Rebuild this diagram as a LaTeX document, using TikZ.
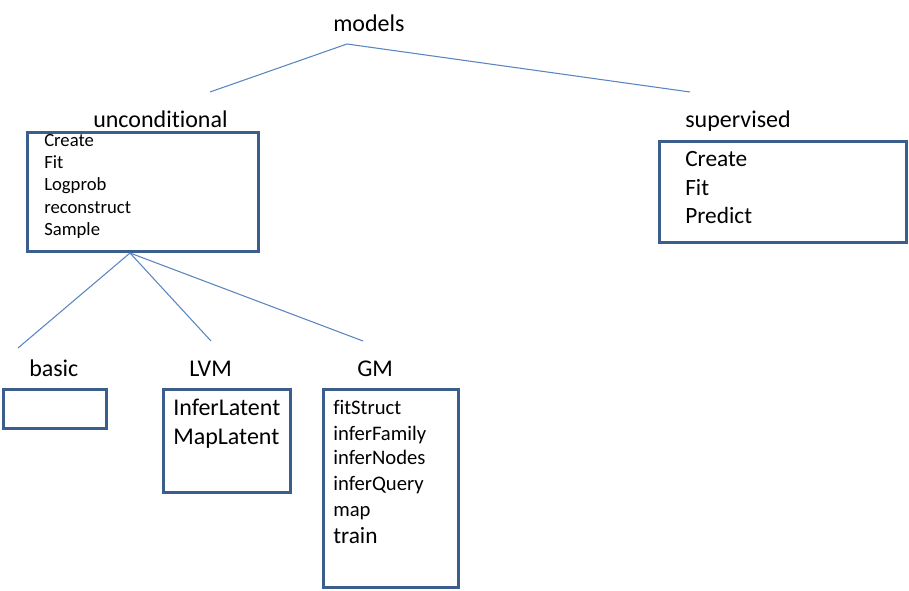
\documentclass[tikz,border=0pt]{standalone}
\usepackage{fontspec}
\setmainfont[Ligatures=NoCommon]{Carlito}
\definecolor{boxblue}{HTML}{3B5E8C}
\definecolor{lineblue}{HTML}{5A86C0}
\tikzset{
 box/.style={draw=boxblue,line width=2.25pt,inner sep=0pt,outer sep=0pt,anchor=north west},
 lbl/.style={anchor=base west,inner sep=0pt,font=\fontsize{18}{20}\selectfont},
 itm/.style={anchor=base west,inner sep=0pt,font=\fontsize{14}{16}\selectfont},
 ritm/.style={anchor=base west,inner sep=0pt,font=\fontsize{17.5}{20}\selectfont},
 gitm/.style={anchor=base west,inner sep=0pt,font=\fontsize{15.5}{18}\selectfont},
 link/.style={draw=lineblue,line width=0.8pt}
}
\begin{document}
\begin{tikzpicture}[x=0.75pt,y=-0.75pt]
 \useasboundingbox (0,0) rectangle (909,591);
 % top level
 \node[lbl] (models) at (333,32) {models};
 \node[lbl] (uncond) at (93,128) {unconditional};
 \node[lbl] (superv) at (685,128) {supervised};
 \coordinate (mtop) at (347,44);
 \coordinate (mleft) at (210,92);
 \coordinate (mright) at (690,92);
 \draw[link] (mleft)--(mtop)--(mright);
 % unconditional box
 \node[box,minimum width=173.25pt,minimum height=89.25pt] (ubox) at (27,133) {};
 \node[itm] (ucreate) at (44,147) {Create};
 \node[itm] (ufit) at (44,169) {Fit};
 \node[itm] (ulogprob) at (44,191) {Logprob};
 \node[itm] (urecon) at (44,214) {reconstruct};
 \node[itm] (usample) at (44,236) {Sample};
 % supervised box
 \node[box,minimum width=185.25pt,minimum height=75.75pt] (sbox) at (659,142) {};
 \node[ritm] (screate) at (685,167) {Create};
 \node[ritm] (sfit) at (685,196) {Fit};
 \node[ritm] (spredict) at (685,224) {Predict};
 % second level
 \coordinate (utop) at (130,253);
 \coordinate (bend) at (18,348);
 \coordinate (lend) at (211,341);
 \coordinate (gend) at (363,341);
 \draw[link] (utop)--(bend);
 \draw[link] (utop)--(lend);
 \draw[link] (utop)--(gend);
 \node[lbl] (basic) at (29,376) {basic};
 \node[lbl] (lvm) at (189,376) {LVM};
 \node[lbl] (gm) at (357,376) {GM};
 \node[box,minimum width=77.25pt,minimum height=29.25pt] (bbox) at (3,389) {};
 \node[box,minimum width=95.25pt,minimum height=77.25pt] (lbox) at (163,389) {};
 \node[lbl] (linfer) at (173,415) {InferLatent};
 \node[lbl] (lmap) at (173,444) {MapLatent};
 \node[box,minimum width=101.25pt,minimum height=148.5pt] (gbox) at (323,389) {};
 \node[gitm] (gfit) at (333,414) {fitStruct};
 \node[gitm] (gfam) at (333,440) {inferFamily};
 \node[gitm] (gnodes) at (333,464) {inferNodes};
 \node[gitm] (gquery) at (333,490) {inferQuery};
 \node[gitm] (gmap) at (333,516) {map};
 \node[ritm] (gtrain) at (333,543) {train};
\end{tikzpicture}
\end{document}
